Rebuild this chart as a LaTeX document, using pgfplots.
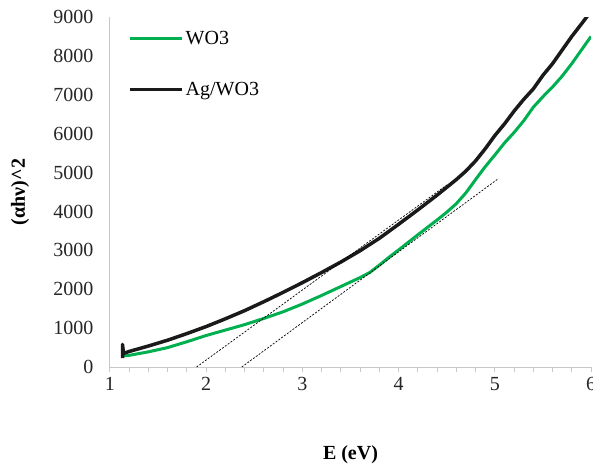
\documentclass[border=0pt]{standalone}
\usepackage{fontspec}
\setmainfont{Liberation Serif}
\usepackage{pgfplots}
\pgfplotsset{compat=1.18}
\definecolor{wgreen}{RGB}{0,176,80}
\definecolor{agblack}{RGB}{26,26,26}
\definecolor{axgray}{RGB}{200,200,200}
\begin{document}
\begin{tikzpicture}
\begin{axis}[
  name=ax,
  scale only axis,
  width=481bp, height=350bp,
  xmin=1, xmax=6, ymin=0, ymax=9000,
  axis lines*=left,
  axis line style={axgray, line width=1bp},
  xtick={1,2,3,4,5,6},
  minor x tick num=4,
  ytick={0,1000,...,9000},
  major tick length=5bp, minor tick length=5bp,
  x tick style={axgray, line width=1bp},
  y tick style={draw=none},
  tick align=outside,
  xtick pos=bottom, ytick pos=left,
  /pgf/number format/assume math mode=true,
  /pgf/number format/1000 sep={},
  tick label style={font=\fontsize{20bp}{24bp}\selectfont, text=black!85},
  yticklabel style={xshift=-8bp},
  xticklabel style={yshift=-2bp},
  xlabel={\textbf{E (eV)}},
  ylabel={\textbf{(αhν)\^{}2}},
  label style={font=\fontsize{20bp}{24bp}\selectfont},
  xlabel style={at={(axis description cs:0.5,0)}, anchor=center, yshift=-88bp},
  ylabel style={at={(axis description cs:0,0.5)}, anchor=center, yshift=90bp},
  legend style={at={(axis description cs:0,1)}, anchor=north west, xshift=18bp, yshift=-12bp,
    draw=none, fill=none, inner sep=0pt, row sep=32bp,
    font=\fontsize{20bp}{24bp}\selectfont, cells={anchor=west}},
  legend cell align=left,
  legend image code/.code={\draw[#1] (0bp,0bp) -- (52bp,0bp);},
  clip=true,
]
\addplot[wgreen, line width=3bp, line join=round] coordinates {
(1.13,250) (1.13,480) (1.14,290) (1.2,300) (1.4,390) (1.6,500) (1.8,650)
(2.0,810) (2.2,950) (2.4,1090) (2.6,1250) (2.8,1420) (3.0,1620) (3.2,1840)
(3.4,2070) (3.6,2300) (3.7,2430) (3.8,2620) (3.9,2820) (4.0,3010) (4.2,3400)
(4.4,3780) (4.5,3980) (4.6,4200) (4.7,4480) (4.8,4820) (4.9,5150) (5.0,5450)
(5.1,5760) (5.2,6030) (5.3,6330) (5.4,6680) (5.5,6950) (5.6,7200) (5.7,7480)
(5.8,7800) (5.9,8150) (6.0,8500)
};
\addlegendentry{WO3}
\addplot[agblack, line width=3.5bp, line join=round] coordinates {
(1.13,230) (1.13,580) (1.14,350) (1.2,400) (1.4,540) (1.6,690) (1.8,860)
(2.0,1040) (2.2,1240) (2.4,1450) (2.6,1680) (2.8,1920) (3.0,2170) (3.2,2430)
(3.4,2700) (3.6,2990) (3.8,3310) (4.0,3670) (4.2,4040) (4.4,4420) (4.6,4820)
(4.7,5040) (4.8,5300) (4.9,5610) (5.0,5950) (5.1,6250) (5.2,6580) (5.3,6880)
(5.4,7150) (5.5,7500) (5.6,7800) (5.7,8150) (5.8,8500) (5.9,8820) (6.0,9150)
};
\addlegendentry{Ag/WO3}
\addplot[black, line width=0.7bp, dash pattern=on 2bp off 1.5bp, forget plot] coordinates {(1.9,0) (4.5,4680)};
\addplot[black, line width=0.7bp, dash pattern=on 2bp off 1.5bp, forget plot] coordinates {(2.37,0) (5.03,4830)};
\end{axis}
\pgfresetboundingbox
\path[use as bounding box] (ax.south west) ++(-110bp,-102bp) rectangle ++(593bp,469bp);
\end{tikzpicture}
\end{document}
